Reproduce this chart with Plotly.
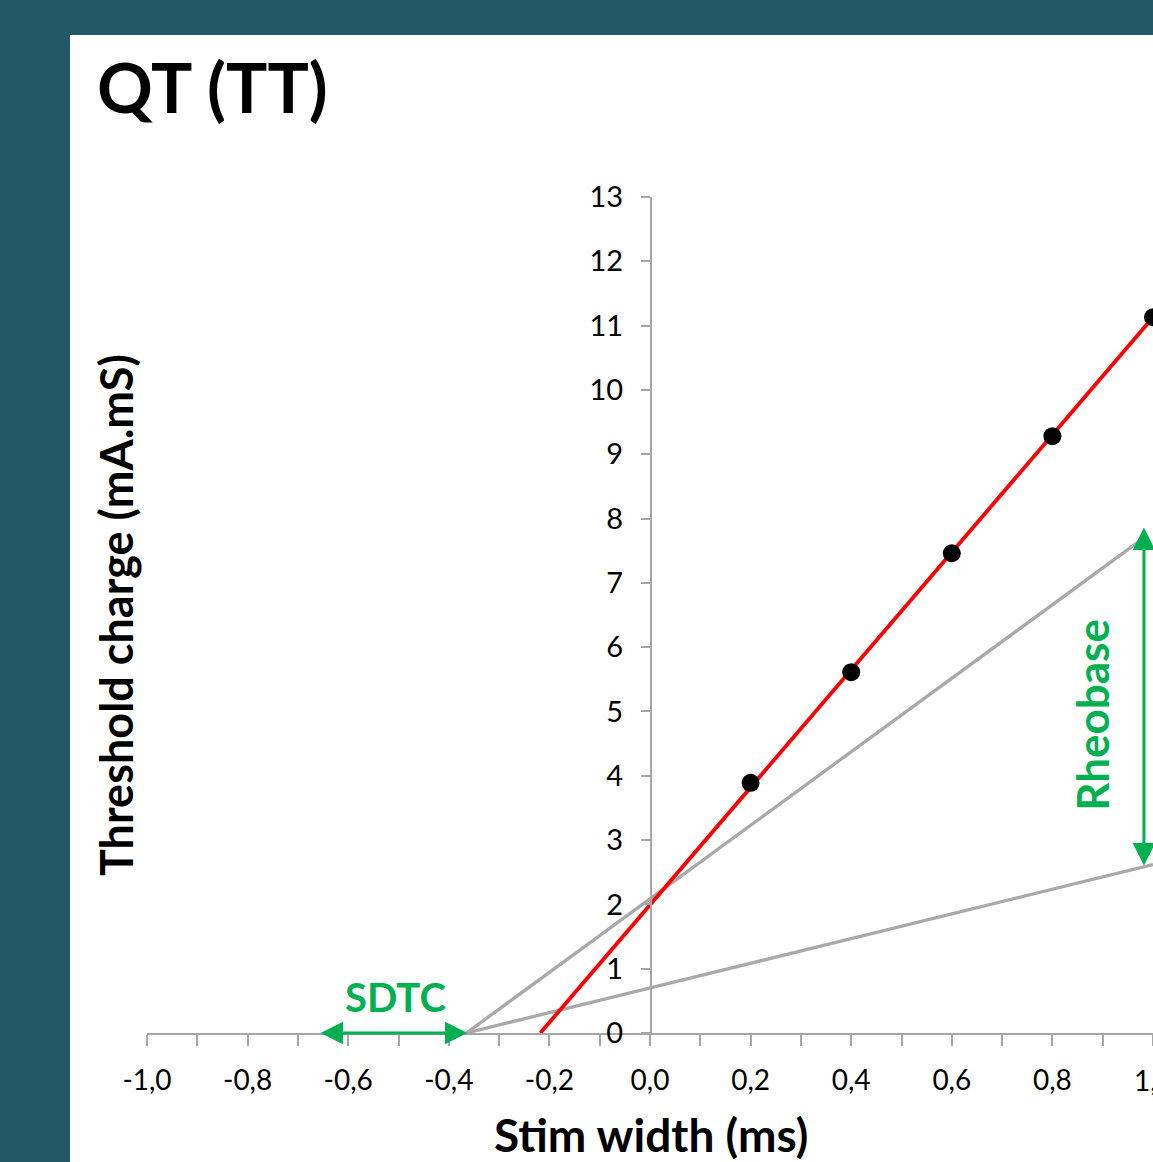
import plotly.graph_objects as go

# ---------------- data ----------------
stim_width = [0.2, 0.4, 0.6, 0.8, 1.0]
threshold_charge = [3.89, 5.61, 7.46, 9.28, 11.13]

fit_x = [-0.218, 1.0]
fit_y = [0.0, 11.13]

upper_gray_x = [-0.365, 0.975]
upper_gray_y = [0.0, 7.66]
lower_gray_x = [-0.365, 1.0]
lower_gray_y = [0.0, 2.62]

rheobase_x = 0.982
rheobase_y = [2.58, 7.86]
sdtc_x = [-0.655, -0.36]
sdtc_y = 0.0

x_ticks = [-1.0, -0.8, -0.6, -0.4, -0.2, 0.0, 0.2, 0.4, 0.6, 0.8, 1.0]
x_ticklabels = ["-1,0", "-0,8", "-0,6", "-0,4", "-0,2", "0,0", "0,2", "0,4", "0,6", "0,8", "1,0"]
y_ticks = list(range(0, 14))

# ---------------- geometry helpers ----------------
W, H = 1153, 1162
L, R, T, B = 147, 0, 197, 129
PW = W - L - R
PH = H - T - B


def px_x(px):
    return (px - L) / PW


def px_y(py):
    return (H - B - py) / PH


TEAL = "#225867"
GREEN = "#00B050"
AX = "#A6A6A6"
FONT = "Lato"

fig = go.Figure()

fig.add_trace(go.Scatter(x=upper_gray_x, y=upper_gray_y, mode="lines",
                         line=dict(color="#A9A9A9", width=3.3), hoverinfo="skip"))
fig.add_trace(go.Scatter(x=lower_gray_x, y=lower_gray_y, mode="lines",
                         line=dict(color="#A9A9A9", width=3.3), hoverinfo="skip"))
fig.add_trace(go.Scatter(x=fit_x, y=fit_y, mode="lines",
                         line=dict(color="#FF0000", width=3.8)))
fig.add_trace(go.Scatter(x=stim_width, y=threshold_charge, mode="markers",
                         marker=dict(color="black", size=18), cliponaxis=False))

# background panel
fig.add_shape(type="rect", xref="paper", yref="paper",
              x0=px_x(70), x1=px_x(W + 5), y0=px_y(H + 5), y1=px_y(35),
              fillcolor="white", line=dict(width=0), layer="below")

# arrows
fig.add_annotation(x=rheobase_x, y=rheobase_y[1], ax=rheobase_x, ay=rheobase_y[0],
                   xref="x", yref="y", axref="x", ayref="y", text="",
                   showarrow=True, arrowhead=2, arrowside="end+start",
                   arrowsize=1.5, arrowwidth=3, arrowcolor=GREEN)
fig.add_annotation(x=sdtc_x[0], y=sdtc_y, ax=sdtc_x[1], ay=sdtc_y,
                   xref="x", yref="y", axref="x", ayref="y", text="",
                   showarrow=True, arrowhead=2, arrowside="end+start",
                   arrowsize=1.5, arrowwidth=3, arrowcolor=GREEN)

fig.add_annotation(x=-0.505, y=0.56, xref="x", yref="y", text="<b>SDTC</b>",
                   xanchor="center", yanchor="middle",
                   showarrow=False, font=dict(family=FONT, size=40, color=GREEN))
fig.add_annotation(x=0.879, y=4.95, xref="x", yref="y", text="<b>Rheobase</b>",
                   xanchor="center", yanchor="middle",
                   textangle=-90, showarrow=False,
                   font=dict(family=FONT, size=44, color=GREEN))

# titles
fig.add_annotation(x=px_x(95), y=px_y(86), xref="paper", yref="paper",
                   xanchor="left", yanchor="middle", text="<b>QT (TT)</b>",
                   showarrow=False, font=dict(family=FONT, size=69, color="black"))
fig.add_annotation(x=px_x(651), y=px_y(1134), xref="paper", yref="paper",
                   xanchor="center", yanchor="middle",
                   text="<b>Stim width (ms)</b>", showarrow=False,
                   font=dict(family=FONT, size=46, color="black"))
fig.add_annotation(x=px_x(116), y=px_y(615), xref="paper", yref="paper",
                   xanchor="center", yanchor="middle",
                   text="<b>Threshold charge (mA.mS)</b>", textangle=-90,
                   showarrow=False, font=dict(family=FONT, size=45, color="black"))
# last x tick label, cut by the right edge as in the reference
fig.add_annotation(x=1.0, y=px_y(1080), xref="paper", yref="paper",
                   xanchor="center", yanchor="middle", text=x_ticklabels[-1],
                   showarrow=False, font=dict(family=FONT, size=28, color="black"))

fig.update_layout(
    width=W, height=H,
    margin=dict(l=L, r=R, t=T, b=B, pad=0),
    paper_bgcolor=TEAL, plot_bgcolor="white",
    showlegend=False,
    font=dict(family=FONT, size=28, color="black"),
    xaxis=dict(range=[-1.0, 1.0], tickvals=x_ticks, ticktext=x_ticklabels,
               showgrid=False, zeroline=False, showline=True, linecolor=AX,
               linewidth=2, ticks="outside", ticklen=11, tickwidth=1.5,
               tickcolor=AX, ticklabelstandoff=10,
               minor=dict(dtick=0.1, tick0=0, ticks="outside", ticklen=11,
                          tickwidth=1.5, tickcolor=AX, showgrid=False),
               tickfont=dict(family=FONT, size=28)),
    yaxis=dict(range=[0, 13], tickvals=y_ticks, showgrid=False, zeroline=False,
               anchor="free", position=px_x(651), showline=True, linecolor=AX,
               linewidth=2, ticks="outside", ticklen=9, tickwidth=1.5,
               tickcolor=AX, ticklabelstandoff=12,
               tickfont=dict(family=FONT, size=29)),
)

fig.write_html("out.html")
